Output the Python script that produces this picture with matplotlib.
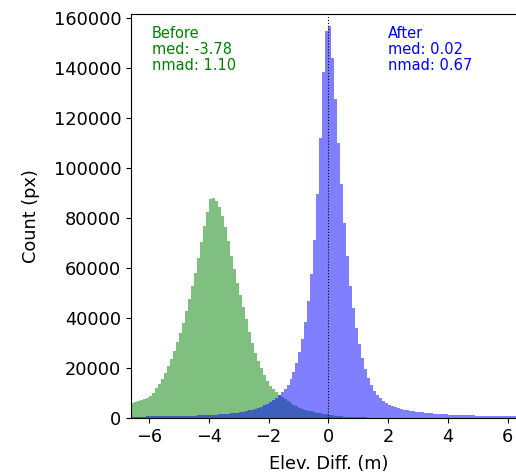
import numpy as np
import matplotlib
matplotlib.use('Agg')
import matplotlib.pyplot as plt

# histogram bin edges (m), 0.1 m wide
bin_edges = np.round(np.arange(-6.6, 6.6001, 0.1), 1)

# counts per bin (-6.6 .. 6.5)
before_counts = [
    6000, 6300, 6700, 7100, 7500, 8200, 9000, 10100, 12000, 13700,
    15600, 18000, 20800, 23800, 27000, 30300, 34000, 38100, 43000, 47500,
    53000, 58000, 64000, 70500, 77000, 82500, 87500, 88100, 86800, 84500,
    81000, 76500, 71000, 65000, 59500, 54200, 49300, 44300, 39500, 34500,
    30000, 26200, 22900, 20000, 17200, 14700, 12800, 11500, 10400, 9400,
    8500, 7600, 6800, 6100, 5400, 4700, 4200, 3800, 3400, 3000,
    2700, 2400, 2100, 1850, 1650, 1450,
    1250, 1100, 950, 820, 700, 600, 520, 450, 390, 340,
    290, 250, 210, 180, 150, 130, 110, 95, 80, 70,
    60, 50, 45, 40, 35, 30, 27, 24, 21, 18,
    16, 14, 12, 10, 9, 8, 6, 6, 5, 5,
    5, 4, 4, 4, 3, 3, 3, 3, 2, 2,
    2, 2, 2, 2, 1, 1, 1, 1, 1, 1,
    1, 1, 1, 1, 1, 1,
]
after_counts = [
    520, 540, 560, 580, 600, 620, 640, 660, 680, 700,
    720, 740, 760, 780, 800, 820, 850, 880, 910, 940,
    970, 1000, 1040, 1080, 1120, 1170, 1220, 1280, 1340, 1420,
    1500, 1620, 1750, 1900, 2050, 2200, 2400, 2600, 2850, 3100,
    3400, 3750, 4150, 4600, 5100, 5700, 6400, 7200, 8100, 9300,
    10500, 11800, 13400, 15600, 18400, 22100, 26400, 31600, 38400, 46800,
    57600, 71300, 89600, 112000, 138400, 155000,
    156800, 144000, 127500, 110000, 93500, 78000, 65000, 53000, 44000, 36000,
    29500, 24000, 19500, 16000, 13200, 11000, 9300, 8000, 6900, 6100,
    5400, 4900, 4400, 4000, 3700, 3400, 3150, 2950, 2750, 2600,
    2450, 2300, 2150, 2000, 1900, 1800, 1700, 1620, 1540, 1460,
    1390, 1330, 1280, 1230, 1180, 1130, 1090, 1050, 1010, 970,
    940, 910, 880, 850, 820, 790, 760, 740, 720, 700,
    680, 660, 640, 620, 600, 580,
]

before_stats = ('Before', -3.78, 1.10)
after_stats = ('After', 0.02, 0.67)

fig = plt.figure(figsize=(5.16, 4.76), dpi=100)
ax = fig.add_axes([0.2539, 0.1218, 0.765, 0.8487])

ax.stairs(before_counts, bin_edges, fill=True, color='g', alpha=0.5, lw=0)
ax.stairs(after_counts, bin_edges, fill=True, color='b', alpha=0.5, lw=0)
ax.axvline(0, color='k', ls=':', lw=0.8)

ax.text(-5.9, 157000, f'{before_stats[0]}\nmed: {before_stats[1]:.2f}\nnmad: {before_stats[2]:.2f}',
        color='g', fontsize=10.5, va='top', ha='left', linespacing=1.1)
ax.text(1.98, 157000, f'{after_stats[0]}\nmed: {after_stats[1]:.2f}\nnmad: {after_stats[2]:.2f}',
        color='b', fontsize=10.5, va='top', ha='left', linespacing=1.1)

ax.set_xlim(-6.6, 6.6)
ax.set_ylim(0, 161600)
ax.set_xticks([-6, -4, -2, 0, 2, 4, 6])
ax.set_yticks(np.arange(0, 160001, 20000))
ax.tick_params(labelsize=12.8)
ax.set_xlabel('Elev. Diff. (m)', fontsize=12.8, labelpad=7)
ax.set_ylabel('Count (px)', fontsize=12.8, labelpad=10)

fig.savefig('out.png', dpi=100)
